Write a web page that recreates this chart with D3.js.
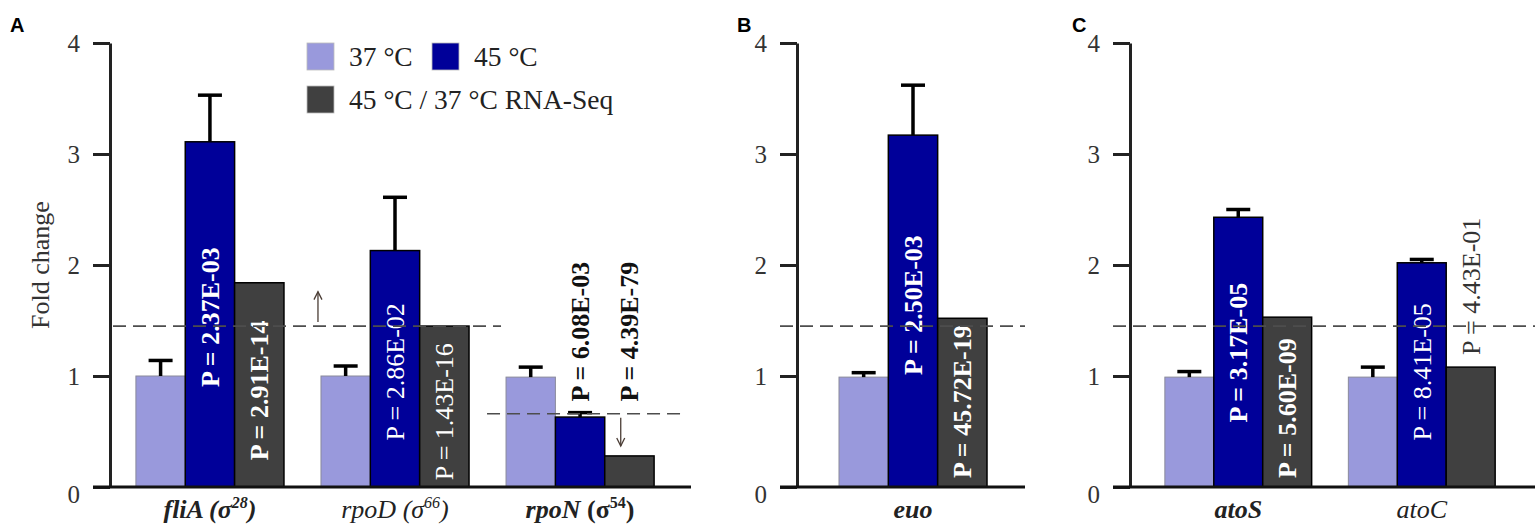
<!DOCTYPE html>
<html>
<head>
<meta charset="utf-8">
<script src="https://cdn.jsdelivr.net/npm/d3@7"></script>
<style>
  body { margin: 0; background: #fff; }
  svg { display: block; }
</style>
</head>
<body>
<div id="chart"></div>
<script>
// values
const genes = ["fliA", "rpoD", "rpoN", "euo", "atoS", "atoC"];
const sigmas = ["28", "66", "54", "", "", ""];
const panelOf = ["A", "A", "A", "B", "C", "C"];
const geneBold = [true, false, true, true, true, false];

const series = ["37 °C", "45 °C", "45 °C / 37 °C RNA-Seq"];
const v37 = [1.00, 1.00, 0.99, 0.99, 0.99, 0.99];
const err37 = [1.14, 1.09, 1.08, 1.03, 1.04, 1.08];
const v45 = [3.11, 2.13, 0.63, 3.17, 2.43, 2.02];
const err45 = [3.53, 2.61, 0.67, 3.62, 2.50, 2.05];
const vRna = [1.84, 1.45, 0.28, 1.52, 1.53, 1.08];

const p45 = ["P = 2.37E-03", "P = 2.86E-02", "P = 6.08E-03", "P = 2.50E-03", "P = 3.17E-05", "P = 8.41E-05"];
const pRna = ["P = 2.91E-14", "P = 1.43E-16", "P = 4.39E-79", "P = 45.72E-19", "P = 5.60E-09", "P = 4.43E-01"];
const p45Bold = [true, false, true, true, true, false];
const pRnaBold = [true, false, true, true, true, false];
// fold-change value where each rotated P label starts
const p45At = [0.90, 0.42, 0.77, 1.01, 0.58, 0.42];
const pRnaAt = [0.24, 0.06, 0.77, 0.08, 0.08, 1.19];

const yTicks = [0, 1, 2, 3, 4];
const upThreshold = 1.45;
const downThreshold = 0.66;

const colors = ["#9999dc", "#000099", "#404040"];
const serif = "'Liberation Serif', 'Times New Roman', serif";

const width = 1535, height = 529;
const svg = d3.select("#chart").append("svg")
    .attr("width", width)
    .attr("height", height);

const y = d3.scaleLinear().domain([0, 4]).range([487, 43]);

const panels = [
    {name: "A", axisX: 110, end: 680, outer: 0.14, baseEnd: 691, letterX: 10},
    {name: "B", axisX: 797, end: 1029, outer: 0.227, baseEnd: 1025, letterX: 737},
    {name: "C", axisX: 1130, end: 1530, outer: 0.19, baseEnd: 1535, letterX: 1072}
];

panels.forEach(p => {
    const idx = genes.map((g, i) => i).filter(i => panelOf[i] === p.name);
    const g = svg.append("g");

    const x = d3.scaleBand()
        .domain(idx.map(i => genes[i]))
        .range([p.axisX, p.end])
        .paddingInner(0.2)
        .paddingOuter(p.outer);
    const xs = d3.scaleBand()
        .domain(series)
        .range([0, x.bandwidth()]);

    // bars
    const rows = [];
    idx.forEach(i => {
        rows.push({gene: genes[i], s: 0, v: v37[i], e: err37[i]});
        rows.push({gene: genes[i], s: 1, v: v45[i], e: err45[i]});
        rows.push({gene: genes[i], s: 2, v: vRna[i], e: null});
    });

    g.append("g").selectAll("rect")
        .data(rows)
        .enter()
        .append("rect")
        .attr("x", d => x(d.gene) + xs(series[d.s]))
        .attr("y", d => y(d.v))
        .attr("width", xs.bandwidth())
        .attr("height", d => y(0) - y(d.v))
        .attr("fill", d => colors[d.s])
        .attr("stroke", d => d.s === 0 ? "#8a8a9a" : "#000")
        .attr("stroke-width", d => d.s === 0 ? 1 : 1.5);

    // error bars
    const errs = rows.filter(d => d.e !== null);
    const eg = g.append("g").attr("stroke", "#000").attr("stroke-width", 3.5);
    eg.selectAll("line.stem")
        .data(errs)
        .enter()
        .append("line")
        .attr("class", "stem")
        .attr("x1", d => x(d.gene) + xs(series[d.s]) + xs.bandwidth() / 2)
        .attr("x2", d => x(d.gene) + xs(series[d.s]) + xs.bandwidth() / 2)
        .attr("y1", d => y(d.v))
        .attr("y2", d => y(d.e));
    eg.selectAll("line.cap")
        .data(errs)
        .enter()
        .append("line")
        .attr("class", "cap")
        .attr("x1", d => x(d.gene) + xs(series[d.s]) + xs.bandwidth() / 2 - 12)
        .attr("x2", d => x(d.gene) + xs(series[d.s]) + xs.bandwidth() / 2 + 12)
        .attr("y1", d => y(d.e))
        .attr("y2", d => y(d.e));

    // rotated P value labels
    const labels = [];
    idx.forEach(i => {
        const inside45 = p45At[i] < v45[i];
        const insideRna = pRnaAt[i] < vRna[i];
        labels.push({gene: genes[i], s: 1, t: p45[i], at: p45At[i], bold: p45Bold[i],
            fill: inside45 ? "#fff" : "#111"});
        labels.push({gene: genes[i], s: 2, t: pRna[i], at: pRnaAt[i], bold: pRnaBold[i],
            fill: insideRna ? "#fff" : (pRnaBold[i] ? "#111" : "#333")});
    });
    g.append("g").selectAll("text")
        .data(labels)
        .enter()
        .append("text")
        .attr("transform", d => {
            const cx = x(d.gene) + xs(series[d.s]) + xs.bandwidth() / 2;
            return "translate(" + cx + "," + y(d.at) + ") rotate(-90)";
        })
        .attr("dy", "0.34em")
        .attr("font-family", serif)
        .attr("font-size", 26)
        .attr("font-weight", d => d.bold ? "bold" : "normal")
        .attr("fill", d => d.fill)
        .text(d => d.t);

    // dashed thresholds
    const dash = g.append("g")
        .attr("stroke", "#4d4d4d")
        .attr("stroke-width", 1.7)
        .attr("stroke-dasharray", "13,7");
    if (p.name === "A") {
        dash.append("line")
            .attr("x1", p.axisX + 3).attr("x2", x("rpoD") + x.bandwidth() + 32)
            .attr("y1", y(upThreshold)).attr("y2", y(upThreshold));
        dash.append("line")
            .attr("x1", x("rpoN") - 19).attr("x2", x("rpoN") + x.bandwidth() + 27)
            .attr("y1", y(downThreshold)).attr("y2", y(downThreshold));

        // arrows
        const ar = g.append("g").attr("stroke", "#4a3c34").attr("stroke-width", 1.3).attr("fill", "none");
        const ux = x("rpoD") - 3;
        ar.append("line").attr("x1", ux).attr("x2", ux)
            .attr("y1", y(upThreshold) - 4).attr("y2", y(1.76));
        ar.append("path").attr("d", "M" + (ux - 4) + "," + (y(1.76) + 8) + "L" + ux + "," + y(1.76) + "L" + (ux + 4) + "," + (y(1.76) + 8));
        const dx = x("rpoN") + xs(series[2]) + 16;
        ar.append("line").attr("x1", dx).attr("x2", dx)
            .attr("y1", y(downThreshold) + 4).attr("y2", y(0.37));
        ar.append("path").attr("d", "M" + (dx - 4) + "," + (y(0.37) - 8) + "L" + dx + "," + y(0.37) + "L" + (dx + 4) + "," + (y(0.37) - 8));
    } else {
        dash.append("line")
            .attr("x1", p.axisX - 17).attr("x2", p.baseEnd)
            .attr("y1", y(upThreshold)).attr("y2", y(upThreshold));
    }

    // y axis
    const yAxis = g.append("g")
        .attr("transform", "translate(" + p.axisX + ",0)")
        .call(d3.axisLeft(y).tickValues(yTicks).tickFormat(d3.format("d"))
            .tickSize(17).tickSizeOuter(0).tickPadding(13));
    yAxis.select(".domain").attr("stroke", "#222").attr("stroke-width", 3);
    yAxis.selectAll(".tick line").attr("stroke", "#222").attr("stroke-width", 3);
    yAxis.selectAll(".tick text")
        .attr("font-family", serif)
        .attr("font-size", 25)
        .attr("fill", "#333")
        .attr("dy", d => d === 0 ? "0.6em" : "0.32em");

    // baseline
    g.append("line")
        .attr("x1", p.axisX - 17).attr("x2", p.baseEnd)
        .attr("y1", y(0)).attr("y2", y(0))
        .attr("stroke", "#111").attr("stroke-width", 3);

    // category labels
    idx.forEach(i => {
        const t = g.append("text")
            .attr("x", x(genes[i]) + x.bandwidth() / 2)
            .attr("y", 518)
            .attr("text-anchor", "middle")
            .attr("font-family", serif)
            .attr("font-size", 26)
            .attr("fill", "#222")
            .attr("font-weight", geneBold[i] ? "bold" : "normal");
        t.append("tspan").attr("font-style", "italic").text(genes[i]);
        if (sigmas[i]) {
            const st = genes[i] === "rpoN" ? "normal" : "italic";
            t.append("tspan").attr("font-style", st).text(" (σ");
            t.append("tspan").attr("font-style", st).attr("font-size", 16).attr("dy", -10).text(sigmas[i]);
            t.append("tspan").attr("font-style", st).attr("dy", 10).text(")");
        }
    });

    // panel letter
    svg.append("text")
        .attr("x", p.letterX)
        .attr("y", 32)
        .attr("font-family", "'Liberation Sans', Arial, sans-serif")
        .attr("font-weight", "bold")
        .attr("font-size", 20)
        .text(p.name);
});

// y axis title
svg.append("text")
    .attr("transform", "translate(49,265) rotate(-90)")
    .attr("text-anchor", "middle")
    .attr("font-family", serif)
    .attr("font-size", 26)
    .attr("fill", "#333")
    .text("Fold change");

// legend
const legendPos = [[307, 43], [432, 43], [307, 86]];
const legend = svg.append("g");
series.forEach((s, i) => {
    const [lx, ly] = legendPos[i];
    legend.append("rect")
        .attr("x", lx).attr("y", ly)
        .attr("width", 27).attr("height", 27)
        .attr("fill", colors[i])
        .attr("stroke", "#bbb").attr("stroke-width", 0.8);
    legend.append("text")
        .attr("x", lx + 42).attr("y", ly + 23)
        .attr("font-family", serif)
        .attr("font-size", 27.5)
        .attr("fill", "#222")
        .text(s);
});
</script>
</body>
</html>
